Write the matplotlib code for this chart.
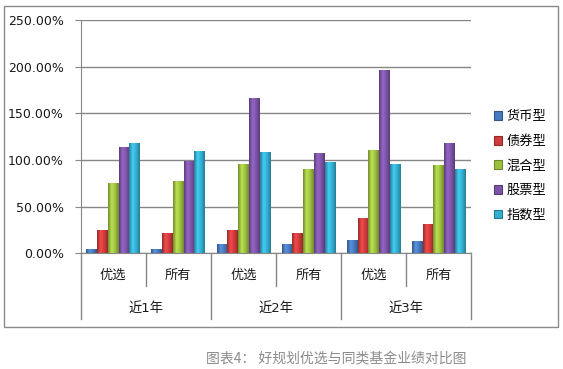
import matplotlib.pyplot as plt
import matplotlib.patches as patches
import matplotlib.transforms as transforms
from matplotlib.colors import LinearSegmentedColormap, to_rgb
import numpy as np

plt.rcParams['font.family'] = ['DejaVu Sans', 'Noto Sans CJK SC']

periods = ['近1年', '近2年', '近3年']
groups = ['优选', '所有']
series = ['货币型', '债券型', '混合型', '股票型', '指数型']
# values in %, order: 近1年优选, 近1年所有, 近2年优选, 近2年所有, 近3年优选, 近3年所有
money = [4.6, 4.6, 9.6, 9.6, 14.2, 12.8]
bond = [24.9, 21.4, 24.9, 21.4, 37.4, 31.0]
mixed = [74.8, 78.0, 96.2, 90.8, 111.0, 94.4]
stock = [114.0, 99.4, 166.7, 107.9, 196.6, 118.6]
index = [118.2, 110.0, 109.0, 98.3, 96.2, 90.8]
colors = ['#4679bd', '#cf3b3b', '#9dc13f', '#7d53a8', '#33aed0']

values = [money, bond, mixed, stock, index]

W, H = 563, 369
fig = plt.figure(figsize=(W / 100, H / 100), dpi=100)
ax = fig.add_axes([80.7 / W, 1 - 253.3 / H, (471.3 - 80.7) / W, (253.3 - 20) / H])

# outer frame
fig.patches.append(patches.Rectangle((4 / W, 1 - 327 / H), 554 / W, 321 / H,
                                     transform=fig.transFigure, fill=False,
                                     edgecolor='#8a8a8a', linewidth=1))

n = len(money)
x = np.arange(n) + 0.5
bw = 0.165


def shade(c):
    r = np.array(to_rgb(c))
    dark = r * 0.72
    light = np.minimum(r * 1.12 + 0.04, 1)
    return LinearSegmentedColormap.from_list('s', [dark, light, r, dark])


grad = np.linspace(0, 1, 64).reshape(1, -1)
handles = []
for k, (vals, c) in enumerate(zip(values, colors)):
    bars = ax.bar(x + (k - 2) * bw, vals, bw, color=c, linewidth=0, zorder=3, label=series[k])
    handles.append(patches.Patch(facecolor=c, edgecolor=np.array(to_rgb(c)) * 0.7, linewidth=0.8))
    cm = shade(c)
    for b in bars:
        im = ax.imshow(grad, extent=[b.get_x(), b.get_x() + b.get_width(), 0, b.get_height()],
                       aspect='auto', cmap=cm, zorder=4)
        im.set_clip_path(b)

ax.set_xlim(0, n)
ax.set_ylim(0, 250)
ax.set_yticks(np.arange(0, 251, 50))
ax.set_yticklabels(['%.2f%%' % v for v in np.arange(0, 251, 50)])
ax.set_xticks([])
ax.grid(axis='y', color='#868686', linewidth=1, zorder=0)
ax.set_axisbelow(True)
for s in ['top', 'right']:
    ax.spines[s].set_visible(False)
for s in ['left', 'bottom']:
    ax.spines[s].set_color('#868686')
ax.tick_params(axis='y', length=4, color='#868686', pad=8, labelsize=9, labelcolor='#1a1a1a')

# two-level category axis
tr = transforms.blended_transform_factory(ax.transData, ax.transAxes)
ah = 253.3 - 20
inner_y = -(285.7 - 253.3) / ah
outer_y = -(319 - 253.3) / ah
for i in range(n + 1):
    yb = outer_y if i % 2 == 0 else inner_y
    ax.plot([i, i], [0, yb], transform=tr, color='#868686', linewidth=1, clip_on=False)
for i in range(n):
    ax.text(i + 0.5, -(275 - 253.3) / ah, groups[i % 2], transform=tr, ha='center', va='center',
            fontsize=9.5, color='#1a1a1a')
for j, p in enumerate(periods):
    ax.text(2 * j + 1, -(308 - 253.3) / ah, p, transform=tr, ha='center', va='center',
            fontsize=9.5, color='#1a1a1a')

fig.legend(handles, series, loc='center left', bbox_to_anchor=(487 / W, 1 - 166 / H),
           frameon=False, fontsize=9.5, handlelength=0.65, handleheight=0.65,
           handletextpad=0.3, labelspacing=0.88, borderpad=0)

fig.text(336 / W, 1 - 358 / H, '图表4： 好规划优选与同类基金业绩对比图', ha='center', va='center',
         fontsize=10, color='#8c8c8c', family=['Noto Sans CJK SC', 'DejaVu Sans'])

fig.savefig('out.png', dpi=100)
